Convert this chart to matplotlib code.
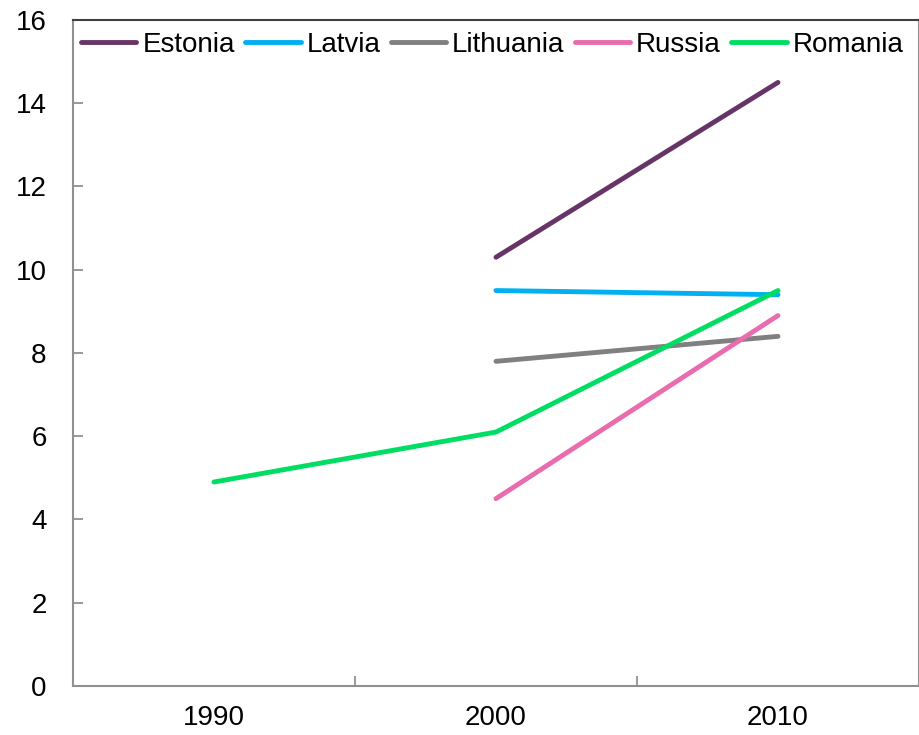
import numpy as np
import matplotlib.pyplot as plt

plt.rcParams['font.family'] = ['Liberation Sans', 'DejaVu Sans']

anos = ['1990', '2000', '2010']

estonia = [np.nan, 10.3, 14.5]
latvia = [np.nan, 9.5, 9.4]
lithuania = [np.nan, 7.8, 8.4]
russia = [np.nan, 4.5, 8.9]
romania = [4.9, 6.1, 9.5]

series = [
    ('Estonia', estonia, '#673468'),
    ('Latvia', latvia, '#00B0F0'),
    ('Lithuania', lithuania, '#808080'),
    ('Russia', russia, '#E86CAE'),
    ('Romania', romania, '#00DD63'),
]

fig = plt.figure(figsize=(9.19, 7.35), dpi=100)
ax = fig.add_axes([0.0794, 0.0667, 0.9206, 0.9061])

x = np.arange(len(anos))
for nome, valores, cor in series:
    ax.plot(x, valores, color=cor, linewidth=3.5, solid_capstyle='round', label=nome)

ax.set_xlim(-0.5, len(anos) - 0.5)
ax.set_ylim(0, 16)
ax.set_yticks(np.arange(0, 17, 2))
ax.set_xticks(x)
ax.set_xticklabels(anos)
ax.set_xticks(np.arange(0.5, len(anos) - 0.5, 1), minor=True)

ax.tick_params(axis='x', which='major', length=0, pad=14, labelsize=20)
ax.tick_params(axis='x', which='minor', direction='in', length=7, color='#888888', width=1.2)
ax.tick_params(axis='y', direction='in', length=7, color='#888888', width=1.2, pad=19, labelsize=20)

for lado in ['left', 'bottom', 'right']:
    ax.spines[lado].set_color('#909090')
    ax.spines[lado].set_linewidth(1.5)
ax.spines['top'].set_color('#404040')
ax.spines['top'].set_linewidth(1.5)

ax.legend(loc='upper left', bbox_to_anchor=(-0.007, 1.003), ncol=5, frameon=False,
          fontsize=20, handlelength=2.0, handletextpad=0.22, columnspacing=0.36,
          borderaxespad=0.1)

fig.savefig('out.png', dpi=100)
